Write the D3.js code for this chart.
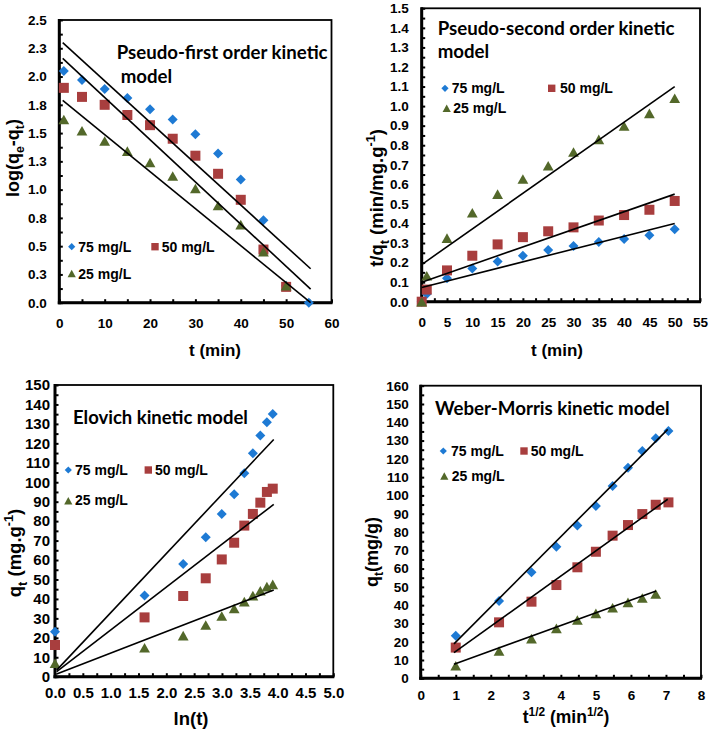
<!DOCTYPE html>
<html><head><meta charset="utf-8">
<script src="https://cdn.jsdelivr.net/npm/d3@7"></script>
<style>body{margin:0;background:#fff} svg{display:block}</style>
</head><body>
<svg id="c" width="709" height="731"></svg>
<script>
// ---------- DATA ----------
const seriesNames = ["75 mg/L", "50 mg/L", "25 mg/L"];

// Pseudo-first order: log(qe-qt) vs t
const pfoT   = [1, 5, 10, 15, 20, 25, 30, 35, 40, 45, 50, 55];
const pfo75  = [2.05, 1.97, 1.89, 1.81, 1.71, 1.62, 1.49, 1.32, 1.09, 0.73, 0.15, 0.0];
const pfo50  = [1.90, 1.82, 1.75, 1.66, 1.57, 1.45, 1.30, 1.14, 0.91, 0.47, 0.14];
const pfo25  = [1.62, 1.52, 1.43, 1.34, 1.24, 1.12, 1.01, 0.86, 0.69, 0.45, 0.15];
const pfoFitX  = [0.75, 55.4];
const pfoFit75 = [2.30, 0.30];
const pfoFit50 = [2.16, 0.12];
const pfoFit25 = [1.79, 0.0];
const pfoXTicks = [0, 10, 20, 30, 40, 50, 60];
const pfoXLabels = ["0", "10", "20", "30", "40", "50", "60"];
const pfoYTicks = [0, 0.25, 0.5, 0.75, 1.0, 1.25, 1.5, 1.75, 2.0, 2.25, 2.5];
const pfoYLabels = ["0.0", "0.3", "0.5", "0.8", "1.0", "1.3", "1.5", "1.8", "2.0", "2.3", "2.5"];

// Pseudo-second order: t/qt vs t
const psoT   = [0, 1, 5, 10, 15, 20, 25, 30, 35, 40, 45, 50];
const pso75  = [0, 0.04, 0.12, 0.17, 0.205, 0.235, 0.264, 0.285, 0.305, 0.32, 0.34, 0.37];
const pso50  = [0, 0.062, 0.16, 0.235, 0.293, 0.33, 0.36, 0.38, 0.415, 0.443, 0.47, 0.515];
const pso25  = [0, 0.133, 0.325, 0.455, 0.55, 0.627, 0.695, 0.765, 0.83, 0.898, 0.963, 1.04];
const psoFitX  = [0, 50];
const psoFit75 = [0.073, 0.40];
const psoFit50 = [0.10, 0.55];
const psoFit25 = [0.19, 1.10];
const psoXTicks = [0, 5, 10, 15, 20, 25, 30, 35, 40, 45, 50, 55];
const psoXLabels = ["0", "5", "10", "15", "20", "25", "30", "35", "40", "45", "50", "55"];
const psoYTicks = [0, 0.1, 0.2, 0.3, 0.4, 0.5, 0.6, 0.7, 0.8, 0.9, 1.0, 1.1, 1.2, 1.3, 1.4, 1.5];
const psoYLabels = ["0.0", "0.1", "0.2", "0.3", "0.4", "0.5", "0.6", "0.7", "0.8", "0.9", "1.0", "1.1", "1.2", "1.3", "1.4", "1.5"];

// Elovich: qt vs ln(t)
const eloLnT = [0, 1.609, 2.303, 2.708, 2.996, 3.219, 3.401, 3.555, 3.689, 3.807, 3.912];
const elo75  = [23.1, 41.7, 57.9, 71.7, 83.7, 93.8, 104.6, 114.9, 124.0, 130.8, 135.1];
const elo50  = [16.3, 30.5, 41.5, 50.6, 60.3, 68.9, 77.7, 83.7, 89.5, 95.0, 96.7];
const elo25  = [6.9, 14.9, 21.1, 26.6, 31.2, 35.1, 38.6, 41.7, 44.2, 46.3, 47.5];
const eloFitX  = [0.03, 3.93];
const eloFit75 = [3.4, 122.0];
const eloFit50 = [2.6, 88.6];
const eloFit25 = [1.4, 44.6];
const eloXTicks = [0, 0.5, 1.0, 1.5, 2.0, 2.5, 3.0, 3.5, 4.0, 4.5, 5.0];
const eloXLabels = ["0.0", "0.5", "1.0", "1.5", "2.0", "2.5", "3.0", "3.5", "4.0", "4.5", "5.0"];
const eloYTicks = [0, 10, 20, 30, 40, 50, 60, 70, 80, 90, 100, 110, 120, 130, 140, 150];
const eloYLabels = ["0", "10", "20", "30", "40", "50", "60", "70", "80", "90", "100", "110", "120", "130", "140", "150"];

// Weber-Morris: qt vs t^1/2
const wmSqrtT  = [1, 2.236, 3.162, 3.873, 4.472, 5.0, 5.477, 5.916, 6.325, 6.708, 7.071];
const wm75     = [23.3, 42.3, 58.0, 72.0, 83.6, 94.2, 105.1, 115.2, 124.3, 131.2, 135.2];
const wm50     = [16.8, 30.6, 41.9, 51.0, 60.7, 69.2, 78.0, 83.8, 89.8, 94.9, 96.2];
const wmSqrtT25 = [1, 2.236, 3.162, 3.873, 4.472, 5.0, 5.477, 5.916, 6.325, 6.708];
const wm25     = [6.9, 14.9, 21.7, 27.3, 31.9, 35.5, 38.6, 41.5, 43.9, 46.1];
const wmFitX   = [0.95, 7.05];
const wmFitX25 = [0.95, 6.72];
const wmFit75  = [18.8, 136.1];
const wmFit50  = [14.0, 97.9];
const wmFit25  = [7.7, 47.7];
const wmXTicks = [0, 1, 2, 3, 4, 5, 6, 7, 8];
const wmXLabels = ["0", "1", "2", "3", "4", "5", "6", "7", "8"];
const wmYTicks = [0, 10, 20, 30, 40, 50, 60, 70, 80, 90, 100, 110, 120, 130, 140, 150, 160];
const wmYLabels = ["0", "10", "20", "30", "40", "50", "60", "70", "80", "90", "100", "110", "120", "130", "140", "150", "160"];

// ---------- STYLE ----------
const COLORS = { d: "#1E7AD4", s: "#A83E3E", t: "#53682A" };
const AX_FONT = "'Liberation Sans', Arial, sans-serif";
const TITLE_FONT = "Lato, 'Open Sans', sans-serif";

const svg = d3.select("#c");
svg.append("rect").attr("width", 709).attr("height", 731).attr("fill", "#fff");

function markerPath(type, big) {
  const p = d3.path();
  if (type === "d") {
    const r = big ? 5.0 : 3.6;
    p.moveTo(0, -r); p.lineTo(r, 0); p.lineTo(0, r); p.lineTo(-r, 0); p.closePath();
  } else if (type === "s") {
    const r = big ? 5.0 : 3.7;
    p.rect(-r, -r, 2 * r, 2 * r);
  } else {
    const w = big ? 5.4 : 4.1, h = big ? 4.8 : 3.7;
    p.moveTo(0, -h); p.lineTo(w, h); p.lineTo(-w, h); p.closePath();
  }
  return p.toString();
}

function rich(sel, parts, fs) {
  let shift = 0;
  parts.forEach(pt => {
    const ts = sel.append("tspan").text(pt.t);
    let target = 0;
    if (pt.sub) { target = 0.3 * fs; ts.attr("font-size", fs * 0.68); }
    else if (pt.sup) { target = -0.42 * fs; ts.attr("font-size", fs * 0.68); }
    const dy = target - shift;
    if (dy !== 0) ts.attr("dy", dy);
    shift = target;
  });
}

function panel(c) {
  const x = d3.scaleLinear().domain(c.xDomain).range([c.left, c.right]);
  const y = d3.scaleLinear().domain(c.yDomain).range([c.bottom, c.top]);
  const g = svg.append("g");

  const gxm = g.append("g").attr("transform", `translate(0,${c.bottom})`)
    .call(d3.axisBottom(x).tickValues(c.xMinor).tickSize(-3.5).tickSizeOuter(0).tickFormat(""));
  const gym = g.append("g").attr("transform", `translate(${c.left},0)`)
    .call(d3.axisLeft(y).tickValues(c.yMinor).tickSize(-3.5).tickSizeOuter(0).tickFormat(""));
  [gxm, gym].forEach(a => { a.select(".domain").remove(); a.selectAll("line").attr("stroke", "#000").attr("stroke-width", 2); });

  const gx = g.append("g").attr("transform", `translate(0,${c.bottom})`)
    .call(d3.axisBottom(x).tickValues(c.xTicks).tickSize(-3.5).tickSizeOuter(0)
      .tickPadding(c.xPad).tickFormat((d, i) => c.xLabels[i]));
  const gy = g.append("g").attr("transform", `translate(${c.left},0)`)
    .call(d3.axisLeft(y).tickValues(c.yTicks).tickSize(-3.5).tickSizeOuter(0)
      .tickPadding(c.yPad).tickFormat((d, i) => c.yLabels[i]));
  [gx, gy].forEach(a => {
    a.select(".domain").remove();
    a.selectAll("line").attr("stroke", "#000").attr("stroke-width", 2);
    a.selectAll("text").attr("font-family", AX_FONT).attr("font-weight", "bold")
      .attr("font-size", c.tickFs).attr("fill", "#000");
  });

  g.append("rect").attr("x", c.left).attr("y", c.top).attr("width", c.right - c.left)
    .attr("height", c.bottom - c.top).attr("fill", "none").attr("stroke", "#000").attr("stroke-width", 1.8);
  g.append("line").attr("x1", c.left).attr("x2", c.left).attr("y1", c.top - 1).attr("y2", c.bottom + 1.5)
    .attr("stroke", "#000").attr("stroke-width", 3);
  g.append("line").attr("x1", c.left - 1.5).attr("x2", c.right + 1).attr("y1", c.bottom).attr("y2", c.bottom)
    .attr("stroke", "#000").attr("stroke-width", 3);

  const types = ["d", "s", "t"];
  c.series.forEach((s, k) => {
    g.append("g").selectAll("path").data(s.y.map((v, i) => [s.x[i], v])).join("path")
      .attr("d", markerPath(types[k], true))
      .attr("transform", d => `translate(${x(d[0])},${y(d[1])})`)
      .attr("fill", COLORS[types[k]]);
  });

  const line = d3.line().x(d => x(d[0])).y(d => y(d[1]));
  c.fits.forEach(f => {
    g.append("path").attr("d", line(f.x.map((v, i) => [v, f.y[i]])))
      .attr("fill", "none").attr("stroke", "#000").attr("stroke-width", 1.6);
  });

  c.legend.forEach((L, k) => {
    g.append("path").attr("d", markerPath(types[k], false))
      .attr("transform", `translate(${L[0]},${L[1]})`).attr("fill", COLORS[types[k]]);
    g.append("text").attr("x", L[2]).attr("y", L[3]).text(seriesNames[k])
      .attr("font-family", AX_FONT).attr("font-weight", "bold").attr("font-size", 14);
  });

  const tt = g.append("text").attr("x", c.title.x).attr("y", c.title.y)
    .attr("font-family", TITLE_FONT).attr("font-weight", "bold").attr("font-size", 16)
    .text(c.title.lines[0]);
  const len = tt.node().getComputedTextLength();
  const fs = 16 * c.title.w / len;
  tt.attr("font-size", fs);
  if (c.title.lines[1]) {
    g.append("text").attr("x", c.title.x2).attr("y", c.title.y2)
      .attr("font-family", TITLE_FONT).attr("font-weight", "bold").attr("font-size", fs)
      .text(c.title.lines[1]);
  }

  const xt = g.append("text").attr("x", c.xTitle.x).attr("y", c.xTitle.y).attr("text-anchor", "middle")
    .attr("font-family", AX_FONT).attr("font-weight", "bold").attr("font-size", c.xTitle.fs);
  rich(xt, c.xTitle.parts, c.xTitle.fs);
  const yt = g.append("text").attr("transform", `translate(${c.yTitle.x},${c.yTitle.y}) rotate(-90)`)
    .attr("text-anchor", "middle")
    .attr("font-family", AX_FONT).attr("font-weight", "bold").attr("font-size", c.yTitle.fs);
  rich(yt, c.yTitle.parts, c.yTitle.fs);
}

panel({
  left: 59.3, right: 331.5, top: 20, bottom: 302.7,
  xDomain: [0, 60], yDomain: [0, 2.5],
  xTicks: pfoXTicks, xLabels: pfoXLabels, yTicks: pfoYTicks, yLabels: pfoYLabels,
  xMinor: d3.range(5, 60, 10), yMinor: d3.range(0.125, 2.5, 0.25),
  xPad: 15.5, yPad: 12.6, tickFs: 13.5,
  series: [{ x: pfoT, y: pfo75 }, { x: pfoT, y: pfo50 }, { x: pfoT, y: pfo25 }],
  fits: [{ x: pfoFitX, y: pfoFit75 }, { x: pfoFitX, y: pfoFit50 }, { x: pfoFitX, y: pfoFit25 }],
  legend: [[71.7, 246.7, 78.3, 251.5], [155, 246.7, 161.7, 251.5], [71.7, 273.5, 78.3, 278.5]],
  title: { lines: ["Pseudo-first order kinetic", "model"], x: 116.7, y: 59, w: 211, x2: 120.7, y2: 82.7 },
  xTitle: { x: 215, y: 356, fs: 17, parts: [{ t: "t (min)" }] },
  yTitle: { x: 19, y: 158, fs: 18, parts: [{ t: "log(q" }, { t: "e", sub: 1 }, { t: "-q" }, { t: "t", sub: 1 }, { t: ")" }] }
});

panel({
  left: 421.7, right: 700, top: 8.3, bottom: 301.7,
  xDomain: [0, 55], yDomain: [0, 1.5],
  xTicks: psoXTicks, xLabels: psoXLabels, yTicks: psoYTicks, yLabels: psoYLabels,
  xMinor: d3.range(2.5, 55, 5), yMinor: d3.range(0.05, 1.5, 0.1),
  xPad: 16, yPad: 13, tickFs: 13.5,
  series: [{ x: psoT, y: pso75 }, { x: psoT, y: pso50 }, { x: psoT, y: pso25 }],
  fits: [{ x: psoFitX, y: psoFit75 }, { x: psoFitX, y: psoFit50 }, { x: psoFitX, y: psoFit25 }],
  legend: [[445, 88.3, 451.7, 93.3], [551.7, 88.3, 560, 93.3], [446.7, 108.3, 453.3, 113.3]],
  title: { lines: ["Pseudo-second order kinetic", "model"], x: 437.7, y: 35, w: 237, x2: 437.7, y2: 58.3 },
  xTitle: { x: 557, y: 356, fs: 17, parts: [{ t: "t (min)" }] },
  yTitle: { x: 383, y: 198, fs: 18.5, parts: [{ t: "t/q" }, { t: "t", sub: 1 }, { t: " (min/mg.g" }, { t: "-1", sup: 1 }, { t: ")" }] }
});

panel({
  left: 55, right: 333.3, top: 385, bottom: 676.7,
  xDomain: [0, 5], yDomain: [0, 150],
  xTicks: eloXTicks, xLabels: eloXLabels, yTicks: eloYTicks, yLabels: eloYLabels,
  xMinor: d3.range(0.25, 5, 0.5), yMinor: d3.range(5, 150, 10),
  xPad: 11, yPad: 5, tickFs: 15,
  series: [{ x: eloLnT, y: elo75 }, { x: eloLnT, y: elo50 }, { x: eloLnT, y: elo25 }],
  fits: [{ x: eloFitX, y: eloFit75 }, { x: eloFitX, y: eloFit50 }, { x: eloFitX, y: eloFit25 }],
  legend: [[68.3, 470, 75, 475], [148.3, 470, 155, 475], [68.3, 500.7, 75, 505]],
  title: { lines: ["Elovich kinetic model"], x: 73, y: 424, w: 175 },
  xTitle: { x: 191, y: 725, fs: 18.5, parts: [{ t: "ln(t)" }] },
  yTitle: { x: 21, y: 553, fs: 18.5, parts: [{ t: "q" }, { t: "t", sub: 1 }, { t: " (mg.g" }, { t: "-1", sup: 1 }, { t: ")" }] }
});

panel({
  left: 420.7, right: 701, top: 385.7, bottom: 678.3,
  xDomain: [0, 8], yDomain: [0, 160],
  xTicks: wmXTicks, xLabels: wmXLabels, yTicks: wmYTicks, yLabels: wmYLabels,
  xMinor: d3.range(0.5, 8, 1), yMinor: d3.range(5, 160, 10),
  xPad: 12, yPad: 12, tickFs: 13.5,
  series: [{ x: wmSqrtT, y: wm75 }, { x: wmSqrtT, y: wm50 }, { x: wmSqrtT25, y: wm25 }],
  fits: [{ x: wmFitX, y: wmFit75 }, { x: wmFitX, y: wmFit50 }, { x: wmFitX25, y: wmFit25 }],
  legend: [[443.3, 451, 451, 456], [524, 451, 530.7, 456], [444.3, 476, 451.7, 480.5]],
  title: { lines: ["Weber-Morris kinetic model"], x: 435, y: 415, w: 235 },
  xTitle: { x: 566, y: 723, fs: 17.5, parts: [{ t: "t" }, { t: "1/2", sup: 1 }, { t: " (min" }, { t: "1/2", sup: 1 }, { t: ")" }] },
  yTitle: { x: 378, y: 552, fs: 18, parts: [{ t: "q" }, { t: "t", sub: 1 }, { t: "(mg/g)" }] }
});
</script>
</body></html>
